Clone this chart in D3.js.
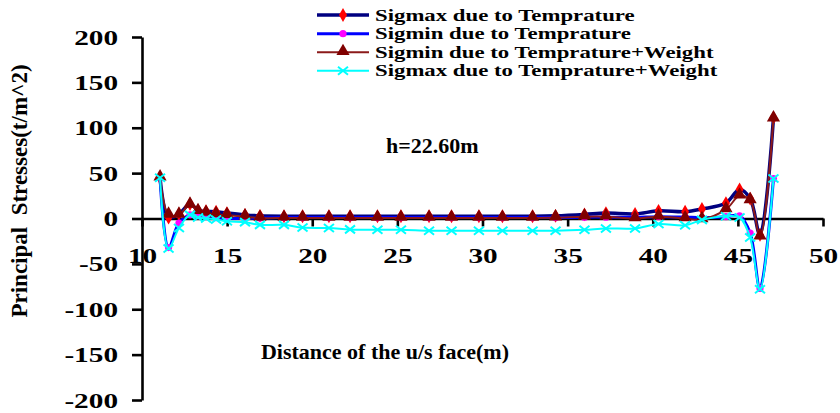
<!DOCTYPE html>
<html>
<head>
  <meta charset="utf-8">
  <script src="https://d3js.org/d3.v7.min.js"></script>
  <style>
    body { margin: 0; background: #ffffff; }
    svg { display: block; background: #ffffff; }
    text { font-family: "Liberation Serif", "Times New Roman", serif; font-weight: bold; fill: #000; }
    .axis path, .axis line { stroke: #000; stroke-width: 2.6; }
  </style>
</head>
<body>
<script>
// distance along the section (m)
var dist = [11.06, 11.56, 12.17, 12.82, 13.29, 13.76, 14.35, 14.99, 16.05, 16.93, 18.34,
  19.43, 20.98, 22.22, 23.83, 25.21, 26.86, 28.18, 29.79, 31.17, 32.94, 34.29,
  35.99, 37.25, 38.96, 40.34, 41.90, 42.89, 44.30, 45.10, 45.72, 46.30, 47.09];

var sigmaxTemp = [45, 1, 5, 16, 9, 8, 7.5, 6, 4, 3, 2.5, 2.5, 2.5, 2.5, 2.5, 2.5, 2.5,
  2.5, 2.5, 2.5, 2.5, 3, 4.5, 6, 5, 8.5, 7.5, 10.5, 17, 32, 22, -18, 111];
var sigminTemp = [45, -32, -5, 4, 3, 2, 1, 0, 0, 0.5, 1, 1, 1, 1, 1, 1, 1, 1, 1, 1, 1,
  1, 1.5, 1.5, 1.5, 2, 1.5, 1, 2, 3, -16, -77, 44];
var sigminTempW = [45, 4, 4, 15, 8, 6, 4.5, 3.5, 2, 0.5, 0.5, 0.5, 0.5, 0.5, 0.5, 0.5,
  0.5, 0.5, 0.5, 0.5, 0.5, 1, 2, 2, 0, 2, 0, -1, 10, 25, 20, -20, 110];
var sigmaxTempW = [45, -33, -10.5, 4, 1, 0, -1, -3, -4, -7, -7, -10, -10.5, -12, -12.5,
  -12.5, -13.5, -13.5, -13.5, -13.5, -13.5, -13.5, -12.5, -11, -11, -6, -7.5, -1.5,
  2.5, 1, -21, -78, 44];

var seriesNames = ["Sigmax due to Temprature", "Sigmin due to Temprature",
  "Sigmin due to Temprature+Weight", "Sigmax due to Temprature+Weight"];
var xTicks = [10, 15, 20, 25, 30, 35, 40, 45, 50];
var yTicks = [-200, -150, -100, -50, 0, 50, 100, 150, 200];

var width = 840, height = 413;

var svg = d3.select("body").append("svg")
  .attr("width", width).attr("height", height);

var x = d3.scaleLinear().domain([10, 50]).range([142, 823]);
var y = d3.scaleLinear().domain([-200, 200]).range([400, 37]);

// tick text in the original is stretched sideways
function stretch(sel, k) {
  sel.each(function() {
    var w = this.getComputedTextLength();
    d3.select(this).attr("textLength", w * k).attr("lengthAdjust", "spacingAndGlyphs");
  });
}

var plain = function(d) { return String(d); };

var yAxis = svg.append("g").attr("class", "axis")
  .attr("transform", "translate(" + x(10) + ",0)")
  .call(d3.axisLeft(y).tickValues(yTicks).tickFormat(plain)
    .tickSize(10).tickPadding(14).tickSizeOuter(0));

var xAxis = svg.append("g").attr("class", "axis")
  .attr("transform", "translate(0," + y(0) + ")")
  .call(d3.axisBottom(x).tickValues(xTicks).tickFormat(plain)
    .tickSize(8).tickPadding(21).tickSizeOuter(0));

svg.selectAll(".axis").attr("font-family", null).attr("font-size", null);
svg.selectAll(".axis text").style("font-size", "22px");
stretch(svg.selectAll(".axis text"), 1.33);

var cols = [
  {data: sigmaxTemp, line: "#000080", lw: 3.5, marker: "diamond", fill: "#ff0000"},
  {data: sigminTemp, line: "#0000ff", lw: 3, marker: "circle", fill: "#ff00ff"},
  {data: sigminTempW, line: "#8b1a1a", lw: 2, marker: "triangle", fill: "#800000"},
  {data: sigmaxTempW, line: "#00ffff", lw: 2, marker: "cross", fill: "#00ffff"}
];

var line = d3.line()
  .x(function(d) { return x(d[0]); })
  .y(function(d) { return y(d[1]); })
  .curve(d3.curveCatmullRom.alpha(0.5));

function drawMarker(g, type, fill) {
  if (type === "diamond") {
    g.append("path").attr("d", d3.symbol(d3.symbolDiamond, 55)()).attr("fill", fill);
  } else if (type === "circle") {
    g.append("circle").attr("r", 3.6).attr("fill", fill);
  } else if (type === "triangle") {
    g.append("path").attr("d", d3.symbol(d3.symbolTriangle, 75)()).attr("fill", fill)
      .attr("transform", "translate(0,-1)");
  } else {
    g.append("path").attr("d", "M-5,-4L5,4M-5,4L5,-4")
      .attr("stroke", fill).attr("stroke-width", 2).attr("fill", "none");
  }
}

cols.forEach(function(c) {
  var pts = dist.map(function(d, i) { return [d, c.data[i]]; });
  svg.append("path").datum(pts)
    .attr("fill", "none").attr("stroke", c.line).attr("stroke-width", c.lw)
    .attr("d", line);
  svg.selectAll(null).data(pts).enter().append("g")
    .attr("transform", function(d) { return "translate(" + x(d[0]) + "," + y(d[1]) + ")"; })
    .each(function() { drawMarker(d3.select(this), c.marker, c.fill); });
});

// legend
var legRows = [15, 33.7, 52.3, 70.8];
seriesNames.forEach(function(name, i) {
  var c = cols[i];
  var g = svg.append("g").attr("transform", "translate(0," + legRows[i] + ")");
  g.append("line").attr("x1", 317).attr("x2", 369)
    .attr("stroke", c.line).attr("stroke-width", c.lw);
  var m = g.append("g").attr("transform", "translate(343,0)");
  drawMarker(m, c.marker, c.fill);
  var t = g.append("text").attr("x", 375).attr("y", 5.5)
    .style("font-size", "17px").text(name);
  stretch(t, 1.34);
});

// titles
svg.append("text").attr("x", 385).attr("y", 359).attr("text-anchor", "middle")
  .style("font-size", "22px").text("Distance of the u/s face(m)");

svg.append("text").attr("transform", "translate(27,191) rotate(-90)")
  .attr("text-anchor", "middle").style("font-size", "23px")
  .attr("xml:space", "preserve")
  .text("Principal  Stresses(t/m^2)");

svg.append("text").attr("x", 386).attr("y", 152.5)
  .style("font-size", "22px").text("h=22.60m");
</script>
</body>
</html>
